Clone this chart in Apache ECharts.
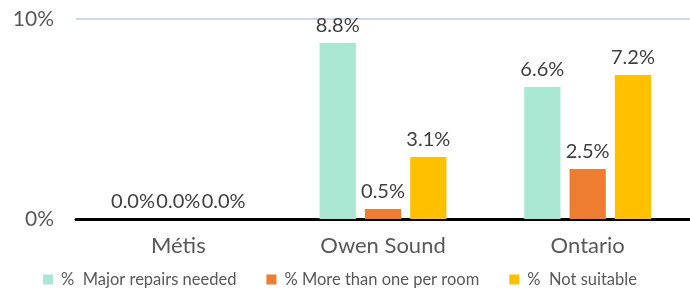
<!DOCTYPE html>
<html>
<head>
<meta charset="utf-8">
<script src="https://cdn.jsdelivr.net/npm/echarts@6/dist/echarts.min.js"></script>
<style>
  html, body { margin: 0; padding: 0; background: #fff; }
  #chart { width: 690px; height: 294px; }
</style>
</head>
<body>
<div id="chart"></div>
<script>
// datos
var categories = ["Métis", "Owen Sound", "Ontario"];
var seriesNames = ["%  Major repairs needed", "% More than one per room", "%  Not suitable"];
var majorRepairs = [0.0, 8.8, 6.6];
var crowded = [0.0, 0.5, 2.5];
var notSuitable = [0.0, 3.1, 7.2];
var yTicks = [0, 10];

var colors = ["#a9e7d3", "#ed7d31", "#ffc000"];
var font = "Lato, 'Open Sans', sans-serif";

var chart = echarts.init(document.querySelector("#chart"));

function makeSeries(name, data, color) {
  return {
    name: name,
    type: "bar",
    data: data,
    barGap: "25%",
    barCategoryGap: "38%",
    itemStyle: { color: color },
    label: {
      show: true,
      position: "top",
      distance: 7,
      color: "#404040",
      fontSize: 20,
      fontFamily: font,
      formatter: function (p) { return p.value.toFixed(1) + "%"; }
    }
  };
}

chart.setOption({
  animation: false,
  textStyle: { fontFamily: font },
  grid: { left: 76, right: 0, top: 19, bottom: 75 },
  legend: {
    bottom: 1,
    left: 38,
    itemWidth: 10,
    itemHeight: 10,
    itemGap: 30,
    icon: "rect",
    textStyle: { color: "#595959", fontSize: 16.5, fontFamily: font, padding: [0, 0, 0, 3] },
    data: seriesNames
  },
  xAxis: {
    type: "category",
    data: categories,
    axisLine: { lineStyle: { color: "#000", width: 3 } },
    axisTick: { show: false },
    axisLabel: { color: "#595959", fontSize: 22, fontFamily: font, margin: 16 }
  },
  yAxis: {
    type: "value",
    min: yTicks[0],
    max: yTicks[1],
    interval: 10,
    axisLine: { show: false },
    axisTick: { show: false },
    splitLine: { lineStyle: { color: "#c9d8ee", width: 2 } },
    axisLabel: {
      color: "#595959",
      fontSize: 21,
      fontFamily: font,
      margin: 22,
      formatter: function (v) { return v + "%"; }
    }
  },
  series: [
    makeSeries(seriesNames[0], majorRepairs, colors[0]),
    makeSeries(seriesNames[1], crowded, colors[1]),
    makeSeries(seriesNames[2], notSuitable, colors[2])
  ]
});
</script>
</body>
</html>
